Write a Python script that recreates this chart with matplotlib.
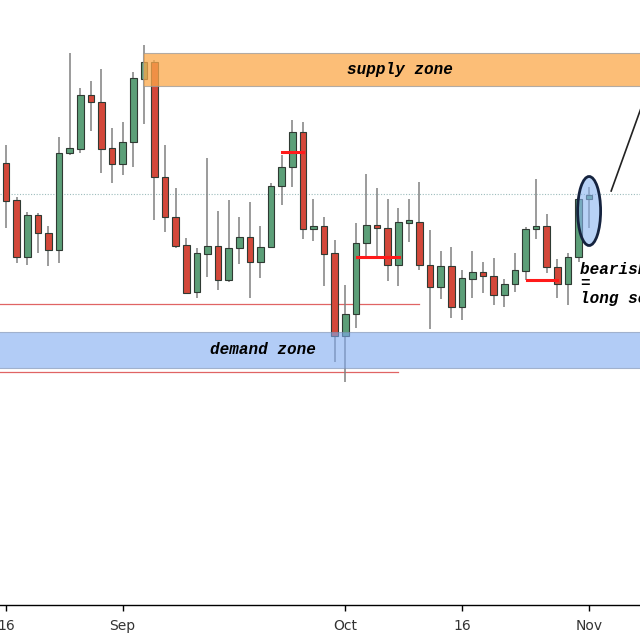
import matplotlib
matplotlib.use("Agg")
import matplotlib.pyplot as plt
from matplotlib.patches import Ellipse
import pandas as pd
import numpy as np

# daily candles, 16 Aug - 1 Nov 2019 (weekdays)
opens = [1.1137, 1.1100, 1.1043, 1.1085, 1.1067, 1.1050, 1.1147, 1.1151, 1.1205, 1.1198,
         1.1152, 1.1136, 1.1158, 1.1221, 1.1238, 1.1123, 1.1083, 1.1055, 1.1008, 1.1046,
         1.1054, 1.1020, 1.1052, 1.1063, 1.1038, 1.1053, 1.1114, 1.1133, 1.1168, 1.1071,
         1.1074, 1.1047, 1.0964, 1.0986, 1.1057, 1.1075, 1.1072, 1.1035, 1.1077, 1.1078,
         1.1035, 1.1013, 1.1034, 1.0993, 1.1021, 1.1028, 1.1024, 1.1005, 1.1016, 1.1029,
         1.1071, 1.1074, 1.1033, 1.1016, 1.1043, 1.1101]
highs = [1.1155, 1.1103, 1.1088, 1.1087, 1.1074, 1.1163, 1.1247, 1.1212, 1.1219, 1.1231,
         1.1172, 1.1178, 1.1228, 1.1255, 1.1240, 1.1155, 1.1112, 1.1062, 1.1052, 1.1142,
         1.1089, 1.1100, 1.1083, 1.1098, 1.1074, 1.1117, 1.1145, 1.1180, 1.1178, 1.1101,
         1.1083, 1.1060, 1.1015, 1.1077, 1.1126, 1.1112, 1.1101, 1.1092, 1.1101, 1.1118,
         1.1070, 1.1049, 1.1053, 1.1030, 1.1049, 1.1038, 1.1042, 1.1021, 1.1047, 1.1073,
         1.1121, 1.1086, 1.1041, 1.1047, 1.1107, 1.1113]
lows = [1.1072, 1.1037, 1.1035, 1.1047, 1.1034, 1.1037, 1.1145, 1.1147, 1.1169, 1.1127,
        1.1117, 1.1125, 1.1133, 1.1176, 1.1080, 1.1068, 1.1052, 1.1006, 1.1002, 1.1023,
        1.1010, 1.1018, 1.1036, 1.1002, 1.1022, 1.1052, 1.1095, 1.1113, 1.1061, 1.1059,
        1.1014, 1.0938, 1.0918, 1.0972, 1.1043, 1.1043, 1.1019, 1.1014, 1.1058, 1.1030,
        1.0971, 1.1001, 1.0982, 1.0980, 1.1002, 1.1007, 1.0995, 1.0993, 1.1008, 1.1020,
        1.1061, 1.1027, 1.1002, 1.0995, 1.1038, 1.1072]
closes = [1.1099, 1.1043, 1.1085, 1.1067, 1.1050, 1.1147, 1.1152, 1.1205, 1.1198, 1.1151,
          1.1136, 1.1158, 1.1222, 1.1238, 1.1123, 1.1083, 1.1054, 1.1007, 1.1047, 1.1054,
          1.1020, 1.1052, 1.1063, 1.1038, 1.1053, 1.1114, 1.1133, 1.1168, 1.1071, 1.1073,
          1.1046, 1.0964, 1.0986, 1.1057, 1.1075, 1.1072, 1.1035, 1.1078, 1.1078, 1.1035,
          1.1013, 1.1034, 1.0993, 1.1022, 1.1028, 1.1024, 1.1005, 1.1016, 1.1030, 1.1071,
          1.1074, 1.1033, 1.1016, 1.1043, 1.1101, 1.1105]

dates = pd.bdate_range("2019-08-16", periods=len(opens))
tick_dates = ["2019-08-16", "2019-09-02", "2019-10-01", "2019-10-16", "2019-11-01"]
tick_labels = ["16", "Sep", "Oct", "16", "Nov"]

supply = (1.1214, 1.1247)
demand = (1.0932, 1.0968)
red_levels = [1.0996, 1.0928]
red_level_ends = [39.0, 37.0]
mid_level = 1.1106
marks = [(26.0, 28.0, 1.1148), (33.1, 37.1, 1.1043), (49.1, 52.0, 1.1020)]

green = "#5c9f78"
red = "#d3483a"

fig = plt.figure(figsize=(6.4, 6.4), dpi=100)
ax = fig.add_axes([0, 35 / 640, 1, 1 - 35 / 640])

x = np.arange(len(opens))
o = np.array(opens); c = np.array(closes)
up = c >= o
cols = np.where(up, green, red)
ax.vlines(x, lows, highs, color="#808080", lw=1.1, zorder=1)
body = np.maximum(np.abs(c - o), 0.00025)
ax.bar(x, body, bottom=np.minimum(o, c), width=0.62, color=cols,
       edgecolor="#2f3a33", linewidth=0.8, zorder=2)

# levels
ax.axhline(mid_level, color="#9dbcbc", lw=0.8, ls=(0, (1, 1.5)), zorder=0)
for lv, end in zip(red_levels, red_level_ends):
    ax.plot([-1, end], [lv, lv], color="#e06464", lw=0.9, zorder=0)
for x0, x1, lv in marks:
    ax.plot([x0, x1], [lv, lv], color="#ff1a1a", lw=2.2, zorder=4)

# zones
ax.fill_between([12.95, 62], supply[0], supply[1], color="#fba94a", alpha=0.75,
                edgecolor="#9a9a9a", lw=0.8, zorder=3)
ax.fill_between([-1, 62], demand[0], demand[1], color="#7faaf0", alpha=0.6,
                edgecolor="#7d8fb0", lw=0.8, zorder=3)

font = dict(family="Liberation Mono", fontweight="bold", fontstyle="italic", fontsize=11.5)
ax.text(37.2, sum(supply) / 2, "supply zone", ha="center", va="center", zorder=5, **font)
ax.text(24.2, sum(demand) / 2, "demand zone", ha="center", va="center", zorder=5, **font)
ax.text(54.15, 1.1038, "bearish pin bar\n=\nlong sell", ha="left", va="top",
        linespacing=0.95, zorder=5, **font)

ax.add_patch(Ellipse((55.0, 1.1089), 2.17, 0.0069, facecolor="#8ab4f0", alpha=0.6, zorder=5))
ax.add_patch(Ellipse((55.0, 1.1089), 2.17, 0.0069, facecolor="none",
                     edgecolor="#15233f", lw=2, zorder=6))
ax.plot([57.08, 61.7], [1.1109, 1.1245], color="#222222", lw=1.2, zorder=5)

ax.set_xlim(-0.57, 59.8)
ax.set_ylim(1.0695, 1.1300)
pos = dates.get_indexer(pd.to_datetime(tick_dates))
ax.set_xticks(pos)
ax.set_xticklabels(tick_labels, fontsize=10, color="#333333")
ax.set_yticks([])
for s in ["left", "right", "top"]:
    ax.spines[s].set_visible(False)
ax.spines["bottom"].set_linewidth(1.0)
ax.tick_params(axis="x", length=4, width=1, pad=6)

fig.savefig("out.png", dpi=100)
